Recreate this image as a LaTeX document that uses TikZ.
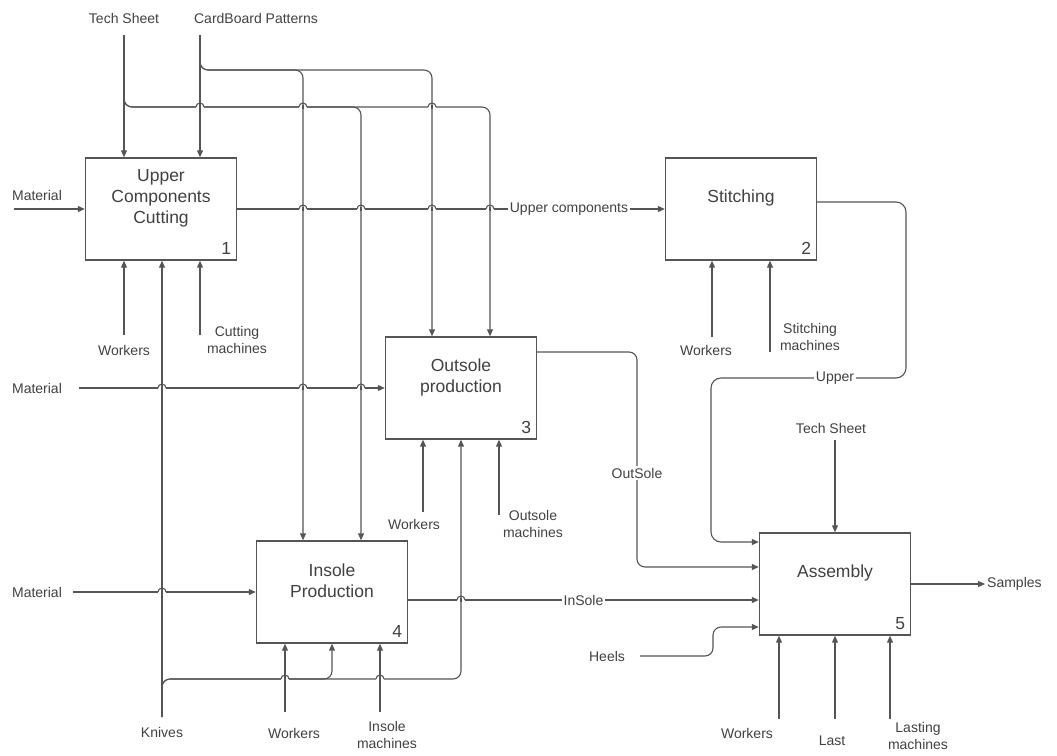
\documentclass[tikz,border=0pt]{standalone}
\usepackage{fontspec}
\setmainfont{Liberation Sans}
\usetikzlibrary{positioning,arrows.meta}
\definecolor{linegray}{RGB}{85,85,85}
\definecolor{textgray}{RGB}{65,65,65}
% small jump where a horizontal line crosses a vertical one
\newcommand{\linehop}[2]{%
  \fill[white] (#1-4,#2-1.3) rectangle (#1+4,#2+1.3);
  \draw[line] (#1,#2-2) -- (#1,#2+2);
  \draw[line] (#1-4,#2) arc[start angle=180, end angle=0, radius=4pt];}

\begin{document}
\begin{tikzpicture}[x=1pt, y=-1pt,
  line/.style={draw=linegray, line width=1.1pt},
  flow/.style={line, -{Triangle[length=7pt,width=6pt]}},
  box/.style={draw=linegray, line width=1.4pt, minimum width=151pt, minimum height=102pt, inner sep=0pt},
  title/.style={text=textgray, font=\fontsize{17.5}{21}\selectfont, align=center},
  num/.style={text=textgray, font=\fontsize{17.5}{21}\selectfont, anchor=south east, inner sep=6pt},
  lbl/.style={text=textgray, font=\fontsize{14}{17}\selectfont, align=center, inner sep=2pt},
  inl/.style={lbl, fill=white, inner sep=1.5pt}]
  \useasboundingbox (0,0) rectangle (1057,755);
  % Boxes
  \node[box] (cut) at (161,209) {};
  \node[title] (cutT) at ([yshift=11pt]cut.center) {Upper\\Components\\Cutting};
  \node[num] (cutN) at (cut.south east) {1};
  \node[box] (stc) at (741,209) {};
  \node[title] (stcT) at ([yshift=11pt]stc.center) {Stitching};
  \node[num] (stcN) at (stc.south east) {2};
  \node[box] (out) at (461,388) {};
  \node[title] (outT) at ([yshift=11pt]out.center) {Outsole\\production};
  \node[num] (outN) at (out.south east) {3};
  \node[box] (ins) at (332,592) {};
  \node[title] (insT) at ([yshift=11pt]ins.center) {Insole\\Production};
  \node[num] (insN) at (ins.south east) {4};
  \node[box] (asm) at (835,584) {};
  \node[title] (asmT) at ([yshift=11pt]asm.center) {Assembly};
  \node[num] (asmN) at (asm.south east) {5};
  % Outer labels
  \node[lbl] (ts1) at (124,18) {Tech Sheet};
  \node[lbl] (cbp) at (256,18) {CardBoard Patterns};
  \node[lbl] (mat1) at (37,195) {Material};
  \node[lbl] (mat2) at (37,388) {Material};
  \node[lbl] (mat3) at (37,592) {Material};
  \node[lbl] (wk1) at (124,350) {Workers};
  \node[lbl] (cm) at (237,340) {Cutting\\machines};
  \node[lbl] (knv) at (162,732) {Knives};
  \node[lbl] (wk4) at (294,733) {Workers};
  \node[lbl] (im) at (387,735) {Insole\\machines};
  \node[lbl] (wk3) at (414,524) {Workers};
  \node[lbl] (om) at (533,524) {Outsole\\machines};
  \node[lbl] (wk2) at (706,350) {Workers};
  \node[lbl] (sm) at (810,337) {Stitching\\machines};
  \node[lbl] (ts5) at (831,428) {Tech Sheet};
  \node[lbl] (heels) at (607,656) {Heels};
  \node[lbl] (wk5) at (747,733) {Workers};
  \node[lbl] (last) at (832,741) {Last};
  \node[lbl] (lm) at (918,736) {Lasting\\machines};
  \node[lbl, anchor=west] (smp) at (985,584) {Samples};
  % Free ends of the arrows
  \coordinate (tsA) at (124,35);
  \coordinate (cbA) at (200,35);
  \coordinate (m1A) at (14,209);
  \coordinate (m2A) at (79,388);
  \coordinate (m3A) at (73,592);
  \coordinate (wk1A) at (124,335);
  \coordinate (cmA) at (200,335);
  \coordinate (knA) at (162,717);
  \coordinate (wk4A) at (285,712);
  \coordinate (imA) at (380,712);
  \coordinate (wk3A) at (423,512);
  \coordinate (omA) at (499,515);
  \coordinate (wk2A) at (712,337);
  \coordinate (smA) at (770,352);
  \coordinate (ts5A) at (835,440);
  \coordinate (hlA) at (640,656);
  \coordinate (wk5A) at (779,719);
  \coordinate (lastA) at (835,719);
  \coordinate (lmA) at (890,719);
  % Tech Sheet and CardBoard Patterns
  \draw[flow] (tsA) -- (tsA |- cut.north);
  \draw[flow, rounded corners=8pt] (tsA) |- (361,107) -- ([xshift=29pt]ins.north);
  \draw[flow, rounded corners=8pt] (tsA) |- (490,107) -- ([xshift=29pt]out.north);
  \draw[flow] (cbA) -- (cbA |- cut.north);
  \draw[flow, rounded corners=8pt] (cbA) |- (303,70) -- ([xshift=-29pt]ins.north);
  \draw[flow, rounded corners=8pt] (cbA) |- (432,70) -- ([xshift=-29pt]out.north);
  % Material inputs
  \draw[flow] (m1A) -- (cut.west);
  \draw[flow] (m2A) -- (out.west);
  \draw[flow] (m3A) -- (ins.west);
  % Cutting
  \draw[flow] (cut.east) -- node[inl, pos=0.776] (upc) {Upper components} (stc.west);
  \draw[flow] (wk1A) -- (wk1A |- cut.south);
  \draw[flow] (cmA) -- (cmA |- cut.south);
  % Knives
  \draw[flow] (knA) -- (knA |- cut.south);
  \draw[flow, rounded corners=8pt] (knA) |- (332,679) -- (ins.south);
  \draw[flow, rounded corners=8pt] (knA) |- (461,679) -- (out.south);
  % Insole and Outsole
  \draw[flow] (wk4A) -- (wk4A |- ins.south);
  \draw[flow] (imA) -- (imA |- ins.south);
  \draw[flow] (wk3A) -- (wk3A |- out.south);
  \draw[flow] (omA) -- (omA |- out.south);
  \draw[flow] ([yshift=-8pt]ins.east) -- node[inl, pos=0.5] (isl) {InSole} (asm.west |- 0,600);
  \draw[flow, rounded corners=8pt] ([yshift=36pt]out.east) -| (637,567) -- (asm.west |- 0,567);
  \node[inl] (osl) at (637,473) {OutSole};
  % Stitching
  \draw[flow] (wk2A) -- (wk2A |- stc.south);
  \draw[flow] (smA) -- (smA |- stc.south);
  \draw[flow, rounded corners=10pt] ([yshift=7pt]stc.east) -| (906,378) -| (711,542) -- (asm.west |- 0,542);
  \node[inl] (upl) at (835,378) {Upper};
  % Assembly
  \draw[flow, rounded corners=8pt] (hlA) -| (713,627) -- (asm.west |- 0,627);
  \draw[flow] (ts5A) -- (asm.north);
  \draw[flow] (wk5A) -- (wk5A |- asm.south);
  \draw[flow] (lastA) -- (lastA |- asm.south);
  \draw[flow] (lmA) -- (lmA |- asm.south);
  \draw[flow] (asm.east) -- (smp.west);
  % Line jumps
  \foreach \hx/\hy in {200/107, 303/107, 432/107,
                       303/209, 361/209, 432/209, 490/209,
                       162/388, 303/388, 361/388, 162/592,
                       285/679, 380/679, 461/600}
    {\linehop{\hx}{\hy}}
\end{tikzpicture}
\end{document}
